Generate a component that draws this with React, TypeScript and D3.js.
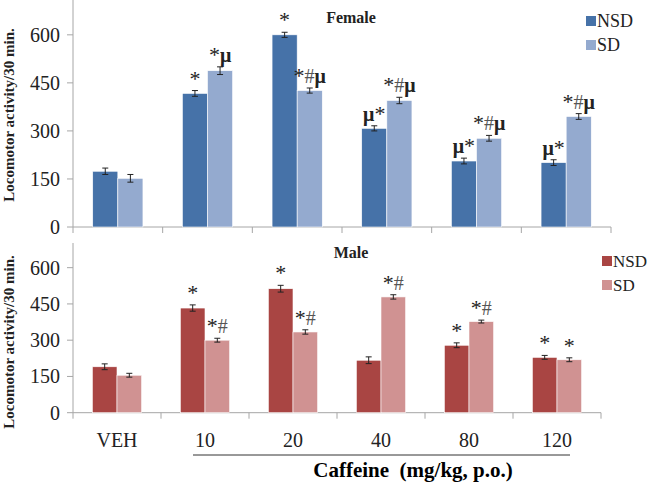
import React, { useEffect, useRef } from "react";
import * as d3 from "d3";

const categories = ["VEH", "10", "20", "40", "80", "120"];
const groups = ["NSD", "SD"];
const yTicks = [0, 150, 300, 450, 600];

// female panel
const femaleNSD = [174, 417, 600, 308, 206, 201];
const femaleSD = [152, 488, 426, 395, 277, 345];
const femaleNSDErr = [10, 9, 8, 8, 9, 9];
const femaleSDErr = [12, 12, 8, 10, 9, 9];
const femaleNSDMark = ["", "*", "*", "μ*", "μ*", "μ*"];
const femaleSDMark = ["", "*μ", "*#μ", "*#μ", "*#μ", "*#μ"];

// male panel
const maleNSD = [190, 433, 513, 217, 279, 229];
const maleSD = [155, 300, 334, 479, 377, 219];
const maleNSDErr = [12, 13, 14, 14, 10, 8];
const maleSDErr = [8, 8, 9, 9, 6, 8];
const maleNSDMark = ["", "*", "*", "", "*", "*"];
const maleSDMark = ["", "*#", "*#", "*#", "*#", "*"];

const serif = "'Liberation Serif', 'Times New Roman', serif";

function drawPanel(svg, opt) {
  const g = svg.append("g");
  const x0 = d3.scaleBand().domain(categories).range([73, opt.xRight]);
  const bw = x0.bandwidth();
  const x1 = d3.scaleBand().domain(groups).range([bw * 0.22, bw * 0.78]);
  const y = d3.scaleLinear().domain([0, 700]).range([opt.y0, opt.yTop]);

  // axes
  g.append("line").attr("x1", 73).attr("x2", 73).attr("y1", opt.axisTop).attr("y2", opt.y0)
    .attr("stroke", "#a6a6a6");
  g.append("line").attr("x1", 73).attr("x2", opt.xRight).attr("y1", opt.y0).attr("y2", opt.y0)
    .attr("stroke", "#a6a6a6");
  g.selectAll(".yt").data(yTicks).join("line")
    .attr("x1", 67).attr("x2", 73).attr("y1", (d) => y(d)).attr("y2", (d) => y(d))
    .attr("stroke", "#a6a6a6");
  const ticks = categories.map((c) => x0(c)).concat([opt.xRight]);
  g.selectAll(".xt").data(ticks).join("line")
    .attr("x1", (d) => d).attr("x2", (d) => d)
    .attr("y1", opt.y0).attr("y2", opt.y0 + 6).attr("stroke", "#a6a6a6");

  g.selectAll(".yl").data(yTicks).join("text")
    .attr("x", 60).attr("y", (d) => y(d)).attr("dy", "0.35em")
    .attr("text-anchor", "end").style("font-family", serif).attr("font-size", 20)
    .attr("fill", "#222").text((d) => d);

  g.append("text")
    .attr("transform", `translate(14,${opt.labelY}) rotate(-90)`)
    .attr("text-anchor", "middle").style("font-family", serif).attr("font-weight", "bold")
    .attr("font-size", 15).attr("fill", "#222").text("Locomotor activity/30 min.");

  g.append("text").attr("x", 351).attr("y", opt.titleY).attr("text-anchor", "middle")
    .style("font-family", serif).attr("font-weight", "bold").attr("font-size", 16)
    .attr("fill", "#222").text(opt.title);

  const series = [
    { key: "NSD", vals: opt.nsd, err: opt.nsdErr, mark: opt.nsdMark, color: opt.colors[0] },
    { key: "SD", vals: opt.sd, err: opt.sdErr, mark: opt.sdMark, color: opt.colors[1] },
  ];

  series.forEach((s) => {
    const data = categories.map((c, i) => ({ c, v: s.vals[i], e: s.err[i], m: s.mark[i] }));
    const bx = (d) => x0(d.c) + x1(s.key);
    g.selectAll(".bar-" + s.key).data(data).join("rect")
      .attr("x", bx).attr("y", (d) => y(d.v))
      .attr("width", x1.bandwidth()).attr("height", (d) => opt.y0 - y(d.v))
      .attr("fill", s.color).attr("stroke", "#fff").attr("stroke-width", 0.6);

    const cx = (d) => bx(d) + x1.bandwidth() / 2;
    g.selectAll(".ev-" + s.key).data(data).join("line")
      .attr("x1", cx).attr("x2", cx)
      .attr("y1", (d) => y(d.v + d.e)).attr("y2", (d) => y(d.v - d.e))
      .attr("stroke", "#222");
    [1, -1].forEach((sg) => {
      g.selectAll(".ec" + sg + s.key).data(data).join("line")
        .attr("x1", (d) => cx(d) - 3).attr("x2", (d) => cx(d) + 3)
        .attr("y1", (d) => y(d.v + sg * d.e)).attr("y2", (d) => y(d.v + sg * d.e))
        .attr("stroke", "#222");
    });

    const t = g.selectAll(".mk-" + s.key).data(data).join("text")
      .attr("x", cx).attr("y", (d) => y(d.v + d.e) - 5)
      .attr("text-anchor", "middle").style("font-family", serif).attr("font-size", 20)
      .attr("fill", "#222");
    t.each(function (d) {
      const el = d3.select(this);
      d.m.split("").forEach((ch) => {
        el.append("tspan").text(ch)
          .attr("font-weight", ch === "μ" ? "bold" : "normal")
          .attr("font-size", ch === "*" ? 22 : 20)
          .attr("fill", ch === "#" ? "#555" : "#222");
      });
    });
  });

  // legend
  groups.forEach((k, i) => {
    g.append("rect").attr("x", opt.legX).attr("y", opt.legY + i * 24 - 9).attr("width", 10)
      .attr("height", 10).attr("fill", opt.colors[i]);
    g.append("text").attr("x", opt.legX + 11).attr("y", opt.legY + i * 24 + 2)
      .style("font-family", serif).attr("font-size", opt.legFont).attr("fill", "#222").text(k);
  });

  return x0;
}

export default function App() {
  const ref = useRef(null);
  useEffect(() => {
    const svg = d3.select(ref.current);
    svg.selectAll("*").remove();

    drawPanel(svg, {
      xRight: 611, y0: 227, yTop: 2.8, axisTop: 0, labelY: 115, titleY: 23, title: "Female",
      nsd: femaleNSD, sd: femaleSD, nsdErr: femaleNSDErr, sdErr: femaleSDErr,
      nsdMark: femaleNSDMark, sdMark: femaleSDMark, colors: ["#4672a8", "#94aacf"],
      legX: 586, legY: 25, legFont: 18,
    });
    const x0 = drawPanel(svg, {
      xRight: 601, y0: 412.7, yTop: 243.5, axisTop: 243, labelY: 342, titleY: 258, title: "Male",
      nsd: maleNSD, sd: maleSD, nsdErr: maleNSDErr, sdErr: maleSDErr,
      nsdMark: maleNSDMark, sdMark: maleSDMark, colors: ["#a94543", "#d09292"],
      legX: 602, legY: 265, legFont: 17,
    });

    svg.selectAll(".cat").data(categories).join("text")
      .attr("x", (d) => x0(d) + x0.bandwidth() / 2).attr("y", 447)
      .attr("text-anchor", "middle").style("font-family", serif).attr("font-size", 20)
      .attr("fill", "#222").text((d) => d);

    svg.append("line").attr("x1", 193).attr("x2", 570).attr("y1", 455).attr("y2", 455)
      .attr("stroke", "#333");
    svg.append("text").attr("x", 413).attr("y", 477).attr("text-anchor", "middle")
      .style("font-family", serif).attr("font-weight", "bold").attr("font-size", 21)
      .style("white-space", "pre").text("Caffeine  (mg/kg, p.o.)");
  }, []);

  return (
    <svg ref={ref} width={650} height={484}
      style={{ position: "absolute", left: 0, top: 0, background: "#fff" }} />
  );
}
